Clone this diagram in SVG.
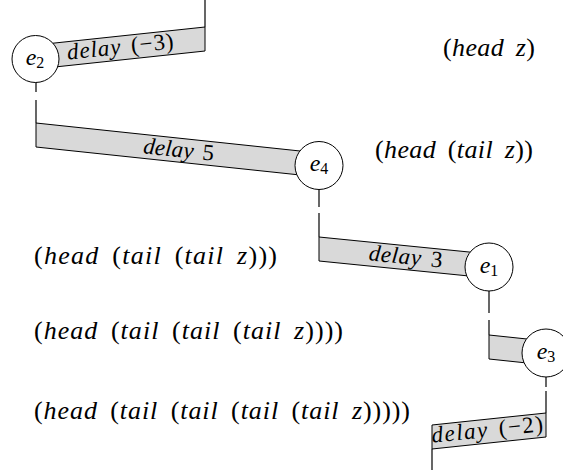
<svg xmlns="http://www.w3.org/2000/svg" width="563" height="470" viewBox="0 0 563 470" font-family="'Liberation Serif', 'Times New Roman', serif">
<style>
.band{fill:#d9d9d9;stroke:#000;stroke-width:1}
.node{fill:#fff;stroke:#000;stroke-width:1}
.ln{stroke:#000;stroke-width:1.2;fill:none}
text{font-family:'Liberation Serif','Times New Roman',serif;fill:#000}
.it{font-style:italic}
.lbl{font-size:23px;font-style:italic;word-spacing:3px}
.nl{font-size:24px;font-style:italic}
.sub{font-size:16px;font-style:normal}
.expr{font-size:26px;word-spacing:5px}
</style>
<rect width="563" height="470" fill="#fff"/>
<g id="connectors">
<line class="ln" x1="205" y1="0" x2="205" y2="27"/>
<line class="ln" x1="36" y1="82" x2="36" y2="92"/>
<line class="ln" x1="36" y1="100" x2="36" y2="123"/>
<line class="ln" x1="319" y1="189" x2="319" y2="207"/>
<line class="ln" x1="319" y1="213" x2="319" y2="237"/>
<line class="ln" x1="489" y1="291" x2="489" y2="313"/>
<line class="ln" x1="489" y1="320" x2="489" y2="335"/>
<line class="ln" x1="546" y1="377" x2="546" y2="387"/>
<line class="ln" x1="546" y1="391" x2="546" y2="413"/>
<line class="ln" x1="432" y1="449" x2="432" y2="470"/>
<polygon class="band" points="36,45 205,27 205,51 36,69"/>
<polygon class="band" points="36,123 319,153 319,177 36,147"/>
<polygon class="band" points="319,237 489,254 489,278 319,261"/>
<polygon class="band" points="489,335 546,341 546,365 489,359"/>
<polygon class="band" points="432,425 546,413 546,437 432,449"/>
<text class="lbl" transform="translate(121,54) rotate(-6.1)" text-anchor="middle" textLength="107" lengthAdjust="spacing">delay <tspan font-style="normal">(−3)</tspan></text>
<text class="lbl" transform="translate(178,157) rotate(6.1)" text-anchor="middle" textLength="71" lengthAdjust="spacing">delay <tspan font-style="normal">5</tspan></text>
<text class="lbl" transform="translate(405,264) rotate(5.8)" text-anchor="middle" textLength="74" lengthAdjust="spacing">delay <tspan font-style="normal">3</tspan></text>
<text class="lbl" transform="translate(488,437) rotate(-6)" text-anchor="middle" textLength="112" lengthAdjust="spacing">delay <tspan font-style="normal">(−2)</tspan></text>
</g>
<g id="e2"><circle class="node" cx="35.5" cy="59" r="23.5"/><text class="nl" x="35" y="65" text-anchor="middle">e<tspan class="sub" dy="3">2</tspan></text></g>
<g id="e4"><circle class="node" cx="319" cy="165.5" r="24"/><text class="nl" x="319" y="171" text-anchor="middle">e<tspan class="sub" dy="3">4</tspan></text></g>
<g id="e1"><circle class="node" cx="489" cy="267" r="24"/><text class="nl" x="489" y="273" text-anchor="middle">e<tspan class="sub" dy="3">1</tspan></text></g>
<g id="e3"><circle class="node" cx="546" cy="353" r="24"/><text class="nl" x="546" y="359" text-anchor="middle">e<tspan class="sub" dy="3">3</tspan></text></g>
<g id="exprs">
<text class="expr" x="443" y="56" textLength="92" lengthAdjust="spacing">(<tspan class="it">head</tspan> <tspan class="it">z</tspan>)</text>
<text class="expr" x="375" y="158" textLength="158" lengthAdjust="spacing">(<tspan class="it">head</tspan> (<tspan class="it">tail</tspan> <tspan class="it">z</tspan>))</text>
<text class="expr" x="34" y="264" textLength="243" lengthAdjust="spacing">(<tspan class="it">head</tspan> (<tspan class="it">tail</tspan> (<tspan class="it">tail</tspan> <tspan class="it">z</tspan>)))</text>
<text class="expr" x="34" y="339" textLength="309" lengthAdjust="spacing">(<tspan class="it">head</tspan> (<tspan class="it">tail</tspan> (<tspan class="it">tail</tspan> (<tspan class="it">tail</tspan> <tspan class="it">z</tspan>))))</text>
<text class="expr" x="34" y="419" textLength="376" lengthAdjust="spacing">(<tspan class="it">head</tspan> (<tspan class="it">tail</tspan> (<tspan class="it">tail</tspan> (<tspan class="it">tail</tspan> (<tspan class="it">tail</tspan> <tspan class="it">z</tspan>)))))</text>
</g>
</svg>
